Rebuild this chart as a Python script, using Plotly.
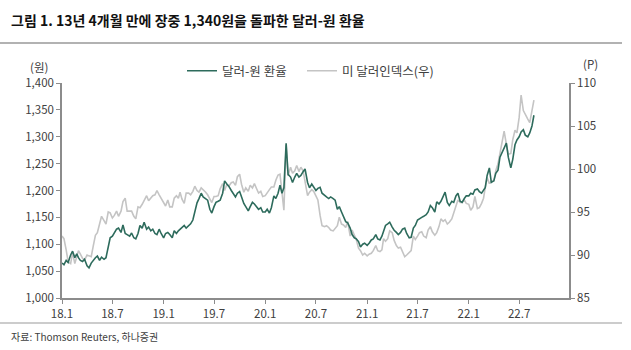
import plotly.graph_objects as go

# ---- data (weekly readings, 4 per month, Jan 2018 - Aug 2022) ----
months = [(y, m) for y in range(2018, 2023) for m in range(1, 13) if not (y == 2022 and m > 8)]
week_days = [1, 8, 16, 23]

krw = [
    # 2018
    1065, 1062, 1070, 1066,  1080, 1087, 1075, 1082,  1075, 1070, 1068, 1072,  1060, 1056, 1065, 1070,
    1075, 1078, 1070, 1076,  1072, 1075, 1092, 1112,  1115, 1122, 1128, 1130,  1122, 1136, 1120, 1118,
    1115, 1121, 1112, 1110,  1120, 1135, 1130, 1141,  1128, 1132, 1125, 1128,  1120, 1118, 1128, 1120,
    # 2019
    1112, 1120, 1122, 1118,  1112, 1125, 1120, 1125,  1128, 1132, 1135, 1130,  1135, 1138, 1145, 1160,
    1177, 1185, 1195, 1188,  1185, 1182, 1165, 1158,  1170, 1178, 1180, 1182,  1195, 1218, 1212, 1208,
    1200, 1195, 1188, 1195,  1198, 1188, 1176, 1170,  1162, 1170, 1178, 1175,  1170, 1165, 1168, 1160,
    # 2020
    1160, 1165, 1158, 1168,  1190, 1185, 1195, 1210,  1195, 1205, 1288, 1230,  1225, 1215, 1225, 1232,
    1225, 1228, 1235, 1240,  1215, 1205, 1212, 1205,  1200, 1204, 1206, 1195,  1190, 1188, 1185, 1188,
    1185, 1182, 1165, 1170,  1160, 1150, 1142, 1140,  1130, 1118, 1112, 1110,  1105, 1095, 1100, 1102,
    # 2021
    1098, 1102, 1108, 1110,  1118, 1110, 1108, 1115,  1125, 1135, 1138, 1141,  1132, 1126, 1122, 1118,
    1122, 1128, 1130, 1120,  1112, 1113, 1130, 1135,  1145, 1148, 1150, 1152,  1155, 1160, 1172, 1168,
    1160, 1179, 1175, 1180,  1190, 1197, 1178, 1172,  1180, 1178, 1190, 1195,  1180, 1178, 1185, 1190,
    # 2022
    1190, 1195, 1193, 1201,  1203, 1198, 1195, 1201,  1205, 1228, 1242, 1215,  1218, 1232, 1238, 1262,
    1270, 1278, 1288, 1262,  1242, 1258, 1285, 1294,  1300, 1309, 1313, 1303,  1300, 1307, 1320, 1340,
]

dxy = [
    # 2018
    92.2, 91.9, 90.6, 89.2,  89.0, 90.3, 89.0, 89.9,  90.5, 90.1, 89.6, 89.4,  90.0, 89.9, 89.8, 91.0,
    92.3, 92.6, 93.6, 94.5,  94.0, 93.6, 95.0, 94.9,  94.3, 94.6, 95.1, 94.5,  95.1, 96.2, 96.6, 95.1,
    95.1, 95.1, 94.5, 94.2,  95.6, 95.5, 95.9, 96.4,  96.9, 96.3, 96.6, 96.9,  97.0, 97.5, 97.0, 96.6,
    # 2019
    96.2, 95.7, 96.4, 95.6,  95.6, 96.6, 96.9, 96.6,  97.3, 96.5, 96.0, 97.2,  97.2, 97.0, 97.4, 98.0,
    97.5, 97.3, 97.8, 97.6,  97.3, 97.0, 96.6, 96.1,  96.8, 96.8, 96.9, 97.7,  98.3, 97.5, 98.2, 98.0,
    98.4, 98.5, 98.1, 99.1,  99.4, 98.2, 97.3, 97.8,  97.4, 98.1, 97.8, 98.3,  97.7, 97.2, 97.4, 96.8,
    # 2020
    96.9, 97.3, 97.6, 97.9,  97.9, 98.7, 99.3, 99.4,  97.4, 95.2, 102.8, 99.2,  100.2, 99.5, 99.8, 100.4,
    99.7, 100.2, 99.8, 98.3,  96.9, 97.3, 97.6, 97.4,  96.9, 96.4, 94.6, 93.4,  93.3, 93.4, 93.2, 92.9,
    92.8, 93.1, 93.4, 94.4,  93.6, 93.5, 93.2, 93.9,  92.2, 92.9, 92.4, 91.8,  90.8, 90.5, 90.0, 90.2,
    # 2021
    89.9, 90.1, 90.2, 90.5,  91.1, 90.5, 90.4, 90.6,  91.9, 91.6, 91.9, 92.8,  92.6, 91.7, 91.1, 90.8,
    90.9, 90.3, 89.8, 90.0,  90.3, 90.5, 92.2, 91.8,  92.2, 92.6, 92.7, 92.2,  92.0, 92.9, 93.3, 92.7,
    92.3, 92.6, 93.3, 94.2,  93.9, 94.1, 93.6, 93.8,  94.2, 94.9, 95.9, 96.4,  96.1, 96.1, 96.4, 96.0,
    # 2022
    95.9, 95.2, 95.6, 96.8,  95.4, 95.5, 96.0, 96.6,  97.8, 99.0, 98.3, 98.6,  98.6, 99.8, 100.6, 101.7,
    102.9, 104.4, 102.9, 101.7,  101.8, 103.4, 104.5, 104.2,  106.0, 108.6, 106.8, 106.3,  105.8, 105.4, 107.0, 108.0,
]

dates = [f"{y}-{m:02d}-{d:02d}" for (y, m) in months for d in week_days]

tick_dates = ["2018-01-01", "2018-07-01", "2019-01-01", "2019-07-01", "2020-01-01",
              "2020-07-01", "2021-01-01", "2021-07-01", "2022-01-01", "2022-07-01"]
tick_labels = ["18.1", "18.7", "19.1", "19.7", "20.1", "20.7", "21.1", "21.7", "22.1", "22.7"]

GREEN = "#2d6b5c"
GREY = "#c4c4c4"
AXIS = "#8c8c8c"
TXT = "#404040"
FONT = "Noto Sans CJK KR"

fig = go.Figure()
# grey on main axis (drawn underneath), green on overlay axis (drawn on top)
fig.add_trace(go.Scatter(x=dates, y=dxy, name="미 달러인덱스(우)", mode="lines",
                         line=dict(color=GREY, width=1.6), yaxis="y", legend="legend2"))
fig.add_trace(go.Scatter(x=dates, y=krw, name="달러-원 환율", mode="lines",
                         line=dict(color=GREEN, width=1.6), yaxis="y2", legend="legend"))

leg_common = dict(orientation="h", y=1.055, xanchor="left", yanchor="middle",
                  font=dict(size=12.5, color=TXT), bgcolor="rgba(0,0,0,0)",
                  itemwidth=30)

fig.update_layout(
    width=631, height=350,
    margin=dict(l=62, r=62, t=83, b=52),
    paper_bgcolor="white", plot_bgcolor="white",
    font=dict(family=FONT, size=11, color=TXT),
    showlegend=True,
    legend=dict(x=(182 - 62) / 507, **leg_common),
    legend2=dict(x=(302 - 62) / 507, **leg_common),
    xaxis=dict(type="date", range=["2018-01-01", "2022-12-27"],
               tickvals=tick_dates, ticktext=tick_labels,
               showgrid=False, zeroline=False,
               showline=True, linecolor=AXIS, linewidth=1.5,
               ticks="outside", ticklen=4, tickcolor=AXIS, tickwidth=1,
               tickfont=dict(size=11.5, color=TXT)),
    yaxis=dict(side="right", range=[85, 110], tickvals=[85, 90, 95, 100, 105, 110],
               showgrid=False, zeroline=False,
               showline=True, linecolor=AXIS, linewidth=1.5,
               ticks="outside", ticklen=4, tickcolor=AXIS, tickwidth=1,
               tickfont=dict(size=11.5, color=TXT)),
    yaxis2=dict(side="left", overlaying="y", range=[1000, 1400],
                tickvals=[1000, 1050, 1100, 1150, 1200, 1250, 1300, 1350, 1400],
                tickformat=",d",
                showgrid=False, zeroline=False,
                showline=True, linecolor=AXIS, linewidth=1.5,
                ticks="outside", ticklen=4, tickcolor=AXIS, tickwidth=1,
                tickfont=dict(size=11.5, color=TXT)),
    shapes=[
        dict(type="line", xref="paper", yref="paper", x0=-62/507, x1=560/507,
             y0=1 + 40/215, y1=1 + 40/215, line=dict(color="#999999", width=1.5)),
        dict(type="line", xref="paper", yref="paper", x0=-62/507, x1=560/507,
             y0=-25/215, y1=-25/215, line=dict(color="#999999", width=1)),
    ],
    annotations=[
        dict(text="<b>그림 1. 13년 4개월 만에 장중 1,340원을 돌파한 달러-원 환율</b>",
             xref="paper", yref="paper", x=-53/507, y=1 + 63/215,
             xanchor="left", yanchor="middle", showarrow=False,
             font=dict(size=14, color="#111111", family=FONT)),
        dict(text="(원)", xref="paper", yref="paper", x=-12/507, y=1 + 16/215,
             xanchor="right", yanchor="middle", showarrow=False,
             font=dict(size=11.5, color=TXT)),
        dict(text="(P)", xref="paper", yref="paper", x=1 + 12/507, y=1 + 19/215,
             xanchor="left", yanchor="middle", showarrow=False,
             font=dict(size=11.5, color=TXT)),
        dict(text="자료: Thomson Reuters, 하나증권", xref="paper", yref="paper",
             x=-53/507, y=-38/215, xanchor="left", yanchor="middle", showarrow=False,
             font=dict(size=10, color=TXT)),
    ],
)

fig.write_html("out.html")
